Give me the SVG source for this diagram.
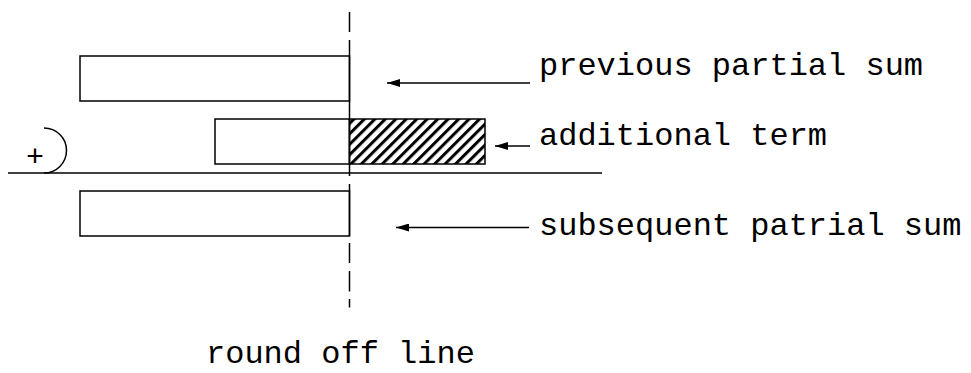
<svg xmlns="http://www.w3.org/2000/svg" width="971" height="373" viewBox="0 0 971 373">
<style>
.ln{stroke:#000;stroke-width:1.5;fill:none}
.box{stroke:#000;stroke-width:1.5;fill:#fff}
.t{font-family:"Liberation Mono","Courier New",monospace;font-size:32px;fill:#000}
</style>
<defs>
<pattern id="hatch" patternUnits="userSpaceOnUse" width="7.4" height="7.4" patternTransform="rotate(45)">
<rect x="0" y="0" width="7.4" height="7.4" fill="#fff"/>
<rect x="0" y="0" width="3" height="7.4" fill="#000"/>
</pattern>
<marker id="ah" viewBox="0 0 13 8" refX="13" refY="4" markerWidth="13" markerHeight="8" markerUnits="userSpaceOnUse" orient="auto">
<path d="M13,4 L0,0 L0,8 Z" fill="#000"/>
</marker>
</defs>
<rect width="971" height="373" fill="#fff"/>
<g id="previous-partial-sum">
<rect class="box" x="80" y="56" width="269.5" height="45"/>
</g>
<g id="additional-term">
<rect class="box" x="215" y="119" width="134.5" height="45"/>
<rect x="349.5" y="119" width="135.5" height="45" fill="url(#hatch)" stroke="#000" stroke-width="1.5"/>
</g>
<g id="subsequent-partial-sum">
<rect class="box" x="80" y="191" width="269.5" height="45"/>
</g>
<g id="round-off-line">
<path class="ln" d="M349.5,12 V32 M349.5,40 V176 M349.5,184 V236 M349.5,243 V263 M349.5,271 V291.5 M349.5,299 V307.5"/>
</g>
<g id="sum-line">
<line class="ln" x1="8" y1="173" x2="602" y2="173"/>
<path class="ln" d="M44,128 A22.5,22.5 0 0 1 44,173"/>
<text class="t" x="35" y="166" text-anchor="middle" style="font-size:30px">+</text>
</g>
<g id="connectors">
<line class="ln" x1="530" y1="83" x2="387" y2="83" marker-end="url(#ah)"/>
<line class="ln" x1="530" y1="146" x2="495" y2="146" marker-end="url(#ah)"/>
<line class="ln" x1="529" y1="227.5" x2="396" y2="227.5" marker-end="url(#ah)"/>
</g>
<g id="labels">
<text class="t" x="539" y="75">previous partial sum</text>
<text class="t" x="539" y="145">additional term</text>
<text class="t" x="539" y="235">subsequent patrial sum</text>
<text class="t" x="206" y="363">round off line</text>
</g>
</svg>
